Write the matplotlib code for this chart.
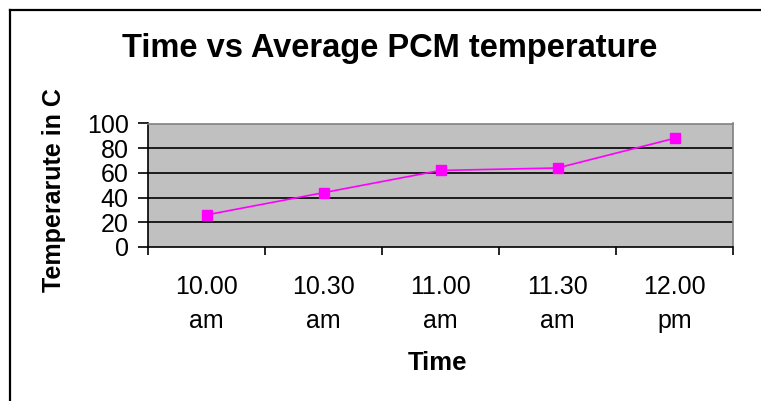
import matplotlib
matplotlib.use("Agg")
import matplotlib.pyplot as plt
from matplotlib.lines import Line2D

plt.rcParams['font.family'] = ['Liberation Sans', 'DejaVu Sans']

# data
times = ["10.00\nam", "10.30\nam", "11.00\nam", "11.30\nam", "12.00\npm"]
temps = [26, 44, 62, 64, 88]
y_ticks = [0, 20, 40, 60, 80, 100]

W, H = 761, 401
fig = plt.figure(figsize=(W / 100, H / 100), dpi=100)

# chart frame (cut off at right and bottom)
fig.add_artist(Line2D([9.5 / W, 9.5 / W], [0, 1 - 9.5 / H], color="black", lw=1.6))
fig.add_artist(Line2D([9.5 / W, 1], [1 - 9.5 / H, 1 - 9.5 / H], color="black", lw=1.6))

ax = fig.add_axes([148 / W, (H - 247) / H, (733 - 148) / W, (247 - 123.5) / H])
ax.set_facecolor("#c0c0c0")

x = list(range(len(times)))
ax.plot(x, temps, color="#ff00ff", lw=1.2, marker="s", markersize=7.5,
        markerfacecolor="#ff00ff", markeredgecolor="#ff00ff", zorder=3)

ax.set_xlim(-0.5, len(times) - 0.5)
ax.set_ylim(0, 100)

for v in y_ticks[1:-1]:
    ax.axhline(v, color="black", lw=1.2, zorder=1)

ax.set_yticks(y_ticks)
ax.set_yticklabels([str(v) for v in y_ticks], fontsize=18)
ax.tick_params(axis="y", direction="out", length=7, width=1.2, pad=7)

# category boundaries as major ticks, labels at centres as minor ticks
ax.set_xticks([i - 0.5 for i in range(len(times) + 1)])
ax.set_xticklabels([""] * (len(times) + 1))
ax.tick_params(axis="x", which="major", direction="out", length=6, width=1.2)
ax.set_xticks(x, minor=True)
ax.set_xticklabels(times, minor=True, fontsize=18, linespacing=1.55)
ax.tick_params(axis="x", which="minor", length=0, pad=20)

ax.spines["left"].set_linewidth(1.2)
ax.spines["bottom"].set_linewidth(1.2)
ax.spines["top"].set_color("#808080")
ax.spines["right"].set_color("#808080")
ax.spines["top"].set_linewidth(1.2)
ax.spines["right"].set_linewidth(1.2)

fig.text(390 / W, 1 - 57 / H, "Time vs Average PCM temperature", fontsize=23.5,
         fontweight="bold", ha="center", va="baseline")
fig.text(54 / W, 1 - 190 / H, "Temperarute in C", fontsize=18, fontweight="bold",
         rotation=90, ha="center", va="center")
fig.text(437 / W, 1 - 370 / H, "Time", fontsize=18.5, fontweight="bold",
         ha="center", va="baseline")

fig.savefig("out.png", dpi=100)
